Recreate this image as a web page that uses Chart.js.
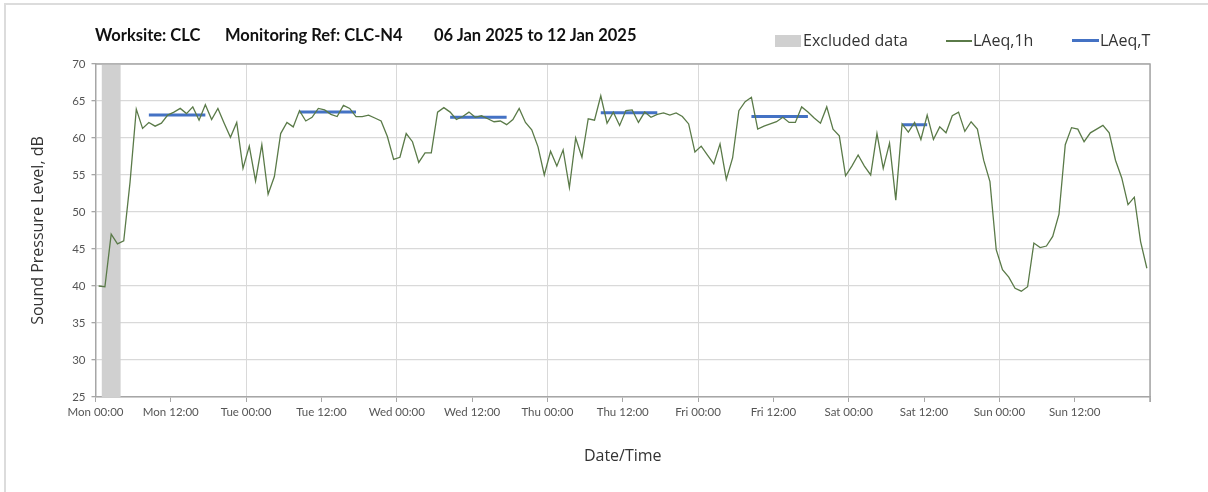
<!DOCTYPE html>
<html>
<head>
<meta charset="utf-8">
<script src="https://cdn.jsdelivr.net/npm/chart.js@4.4.1/dist/chart.umd.min.js"></script>
<style>
  body { margin: 0; background: #fff; width: 1208px; height: 492px; overflow: hidden; position: relative; }
  #frame { position: absolute; left: 4px; top: 3px; width: 1300px; height: 600px;
           border-left: 2px solid #dcdcdc; border-top: 2px solid #dcdcdc; }
  #chart { position: absolute; left: 0; top: 0; }
  .ttl { position: absolute; top: 25px; font: bold 16.5px Lato, sans-serif; color: #111; white-space: pre; }
  .leg { position: absolute; top: 29px; font: 16px "Open Sans", sans-serif; color: #333; white-space: pre; }
  .sw { position: absolute; }
</style>
</head>
<body>
<div id="frame"></div>
<canvas id="chart" width="1208" height="492"></canvas>
<div class="ttl" style="left:95px">Worksite: CLC</div>
<div class="ttl" style="left:225px">Monitoring Ref: CLC-N4</div>
<div class="ttl" style="left:434px">06 Jan 2025 to 12 Jan 2025</div>
<div class="sw" style="left:775px;top:35px;width:26px;height:12px;background:#d0d0d0"></div>
<div class="leg" style="left:803px">Excluded data</div>
<div class="sw" style="left:946px;top:40px;width:26px;height:1.5px;background:#5a7a48"></div>
<div class="leg" style="left:973px">LAeq,1h</div>
<div class="sw" style="left:1072px;top:39px;width:27px;height:3px;background:#4472c4"></div>
<div class="leg" style="left:1100px">LAeq,T</div>
<script>
    // hourly LAeq,1h from Mon 00:00 to Sun 23:00
    const laeq1h = [
        40.0, 39.9, 47.0, 45.7, 46.1, 54.0, 63.9, 61.3, 62.1, 61.6, 62.0, 63.1,
        63.5, 64.0, 63.3, 64.2, 62.4, 64.5, 62.5, 64.0, 62.0, 60.1, 62.1, 55.9,
        58.9, 54.2, 59.1, 52.4, 54.8, 60.6, 62.1, 61.5, 63.7, 62.3, 62.8, 64.0,
        63.8, 63.2, 62.9, 64.4, 64.0, 62.9, 62.9, 63.1, 62.7, 62.3, 60.2, 57.1,
        57.4, 60.6, 59.5, 56.7, 58.0, 58.0, 63.5, 64.1, 63.5, 62.5, 62.9, 63.5,
        62.8, 63.0, 62.6, 62.2, 62.3, 61.8, 62.5, 64.0, 62.1, 61.1, 58.8, 55.0,
        58.2, 56.2, 58.4, 53.3, 60.0, 57.4, 62.6, 62.4, 65.7, 62.0, 63.5, 61.7,
        63.7, 63.8, 62.1, 63.5, 62.8, 63.2, 63.4, 63.1, 63.4, 62.9, 61.9, 58.1,
        58.9, 57.7, 56.5, 59.2, 54.4, 57.3, 63.7, 64.9, 65.5, 61.2, 61.6, 61.9,
        62.2, 62.8, 62.1, 62.1, 64.2, 63.5, 62.7, 62.0, 64.2, 61.2, 60.3, 54.9,
        56.2, 57.7, 56.2, 55.0, 60.6, 55.9, 59.3, 51.6, 61.9, 60.8, 62.1, 59.8,
        63.1, 59.8, 61.5, 60.7, 63.0, 63.5, 60.9, 62.2, 61.2, 57.0, 54.1, 44.9,
        42.2, 41.2, 39.7, 39.3, 39.9, 45.8, 45.2, 45.4, 46.7, 49.7, 59.1, 61.4,
        61.2, 59.5, 60.7, 61.2, 61.7, 60.7, 57.0, 54.6, 51.0, 52.0, 46.0, 42.4
    ];

    // daytime LAeq,T periods (first and last hour of each period)
    const laeqT = [63.1, 63.5, 62.8, 63.4, 62.9, 61.8];
    const laeqTStart = [8, 32, 56, 80, 104, 128];
    const laeqTEnd = [17, 41, 65, 89, 113, 132];

    // excluded periods, in hours from Mon 00:00
    const excludedFrom = [1];
    const excludedTo = [4];

    const dayNames = ["Mon", "Tue", "Wed", "Thu", "Fri", "Sat", "Sun"];
    const yTicks = [25, 30, 35, 40, 45, 50, 55, 60, 65, 70];

    const hourPos = (i) => i + 0.5;

    const lineData = laeq1h.map((v, i) => ({ x: hourPos(i), y: v }));

    const periodData = [];
    laeqT.forEach((v, k) => {
        periodData.push({ x: hourPos(laeqTStart[k]), y: v });
        periodData.push({ x: hourPos(laeqTEnd[k]), y: v });
        periodData.push({ x: hourPos(laeqTEnd[k]) + 0.1, y: null });
    });

    const excludedPlugin = {
        id: "excluded",
        beforeDatasetsDraw(chart) {
            const { ctx, chartArea, scales } = chart;
            ctx.save();
            ctx.fillStyle = "#d0d0d0";
            excludedFrom.forEach((from, k) => {
                const x1 = scales.x.getPixelForValue(from);
                const x2 = scales.x.getPixelForValue(excludedTo[k]);
                ctx.fillRect(x1, chartArea.top + 1, x2 - x1, chartArea.bottom - chartArea.top - 1);
            });
            ctx.restore();
        },
        afterDraw(chart) {
            const { ctx, chartArea } = chart;
            ctx.save();
            ctx.strokeStyle = "#a6a6a6";
            ctx.lineWidth = 1.5;
            ctx.beginPath();
            ctx.moveTo(chartArea.left, chartArea.top);
            ctx.lineTo(chartArea.right, chartArea.top);
            ctx.lineTo(chartArea.right, chartArea.bottom + 5);
            ctx.stroke();
            ctx.restore();
        }
    };

    const tickFont = { family: "Lato", size: 11.5 };

    new Chart(document.getElementById("chart"), {
        type: "line",
        data: {
            datasets: [
                {
                    label: "LAeq,1h",
                    data: lineData,
                    borderColor: "#5a7a48",
                    borderWidth: 1.3,
                    pointRadius: 0,
                    tension: 0
                },
                {
                    label: "LAeq,T",
                    data: periodData,
                    borderColor: "#4472c4",
                    borderWidth: 3,
                    borderCapStyle: "butt",
                    pointRadius: 0,
                    spanGaps: false
                }
            ]
        },
        options: {
            responsive: false,
            animation: false,
            layout: { padding: { left: 0, top: 64, right: 58, bottom: 0 } },
            plugins: {
                legend: { display: false },
                tooltip: { enabled: false }
            },
            scales: {
                x: {
                    type: "linear",
                    min: 0,
                    max: 168,
                    afterFit: (s) => { s.height = 95; },
                    afterBuildTicks: (s) => {
                        s.ticks = [];
                        for (let h = 0; h <= 168; h += 12) s.ticks.push({ value: h });
                    },
                    ticks: {
                        autoSkip: false,
                        maxRotation: 0,
                        padding: 3,
                        color: "#555",
                        font: tickFont,
                        callback: (v) => v >= 168 ? "" : dayNames[Math.floor(v / 24)] + (v % 24 ? " 12:00" : " 00:00")
                    },
                    grid: {
                        color: (c) => (c.tick && c.tick.value % 24 === 0) ? "#d9d9d9" : "rgba(0,0,0,0)",
                        tickColor: "#a6a6a6",
                        tickLength: 5
                    },
                    border: { color: "#a6a6a6", width: 1.5 },
                    title: {
                        display: true,
                        text: "Date/Time",
                        color: "#333",
                        font: { family: "Open Sans", size: 16 },
                        padding: { top: 0, bottom: 26 }
                    }
                },
                y: {
                    min: 25,
                    max: 70,
                    afterFit: (s) => { s.width = 95.5; },
                    afterBuildTicks: (s) => { s.ticks = yTicks.map((v) => ({ value: v })); },
                    ticks: {
                        padding: 6,
                        color: "#555",
                        font: tickFont
                    },
                    grid: {
                        color: "#d9d9d9",
                        lineWidth: 1.3,
                        tickColor: "#a6a6a6",
                        tickLength: 4
                    },
                    border: { color: "#a6a6a6", width: 1.5 },
                    title: {
                        display: true,
                        text: "Sound Pressure Level, dB",
                        color: "#333",
                        font: { family: "Open Sans", size: 16 },
                        padding: { top: 29, bottom: 0 }
                    }
                }
            }
        },
        plugins: [excludedPlugin]
    });
</script>
</body>
</html>
